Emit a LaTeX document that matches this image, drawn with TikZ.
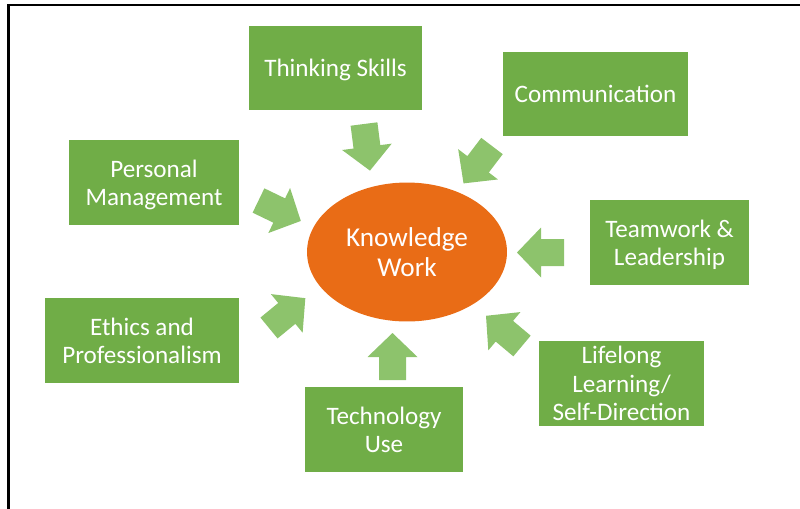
\documentclass[tikz,border=0pt]{standalone}
\usepackage{fontspec}
\setmainfont{Carlito}
\usepackage{tikz}
\usetikzlibrary{shapes.geometric}
\usepackage{xcolor}

\definecolor{boxgreen}{HTML}{70AD47}
\definecolor{arrowgreen}{HTML}{8DC36C}
\definecolor{coreorange}{HTML}{E96C16}

\tikzset{
    skillbox/.style={rectangle, fill=boxgreen, text=white, align=center,
        inner sep=0pt, text depth=0pt, font=\fontsize{14.3}{16.2}\selectfont},
    corebox/.style={ellipse, fill=coreorange, text=white, align=center,
        inner sep=0pt, minimum width=4cm, minimum height=2.78cm,
        font=\fontsize{15.5}{17.2}\selectfont},
    pics/fatarrow/.style={code={
        \fill[arrowgreen] (0,-13.5) -- (23,-13.5) -- (23,-25) -- (47,0)
            -- (23,25) -- (23,13.5) -- (0,13.5) -- cycle;
    }}
}

\begin{document}
\begin{tikzpicture}[x=0.02cm, y=-0.02cm, line join=miter]

    % page frame (pixel grid, y downwards)
    \useasboundingbox (0,0) rectangle (800,508);
    \draw[line width=1.4pt] (8.5,512) -- (8.5,5) -- (804,5);

    % centre
    \node[corebox] (core) at (407,252) {Knowledge\\Work};

    % the seven skills
    \node[skillbox, minimum width=3.46cm, minimum height=1.68cm] (think)    at (335.5,68)  {Thinking Skills};
    \node[skillbox, minimum width=3.70cm, minimum height=1.68cm] (comm)     at (595.5,94)  {Communication};
    \node[skillbox, minimum width=3.40cm, minimum height=1.70cm] (personal) at (154,182.5) {Personal\\Management};
    \node[skillbox, minimum width=3.18cm, minimum height=1.70cm] (team)     at (669.5,242.5) {Teamwork \&\\Leadership};
    \node[skillbox, minimum width=3.88cm, minimum height=1.70cm] (ethics)   at (142,340.5) {Ethics and\\Professionalism};
    \node[skillbox, minimum width=3.16cm, minimum height=1.70cm] (tech)     at (384,429.5) {Technology\\Use};
    \node[skillbox, minimum width=3.30cm, minimum height=1.70cm] (lifelong) at (621.5,383.5) {Lifelong\\Learning/\\Self-Direction};

    % block arrows pointing at the centre (tail point, direction)
    \pic[rotate=-82.7] at (364,124)     {fatarrow};  % thinking
    \pic[rotate=232.7] at (492,146)     {fatarrow};  % communication
    \pic[rotate=-25.8] at (258.5,200.5) {fatarrow};  % personal
    \pic[rotate=180]   at (564,252.5)   {fatarrow};  % teamwork
    \pic[rotate=140]   at (522,346)     {fatarrow};  % lifelong
    \pic[rotate=90]    at (392.5,380)   {fatarrow};  % technology
    \pic[rotate=39.4]  at (269,328)     {fatarrow};  % ethics

\end{tikzpicture}
\end{document}
